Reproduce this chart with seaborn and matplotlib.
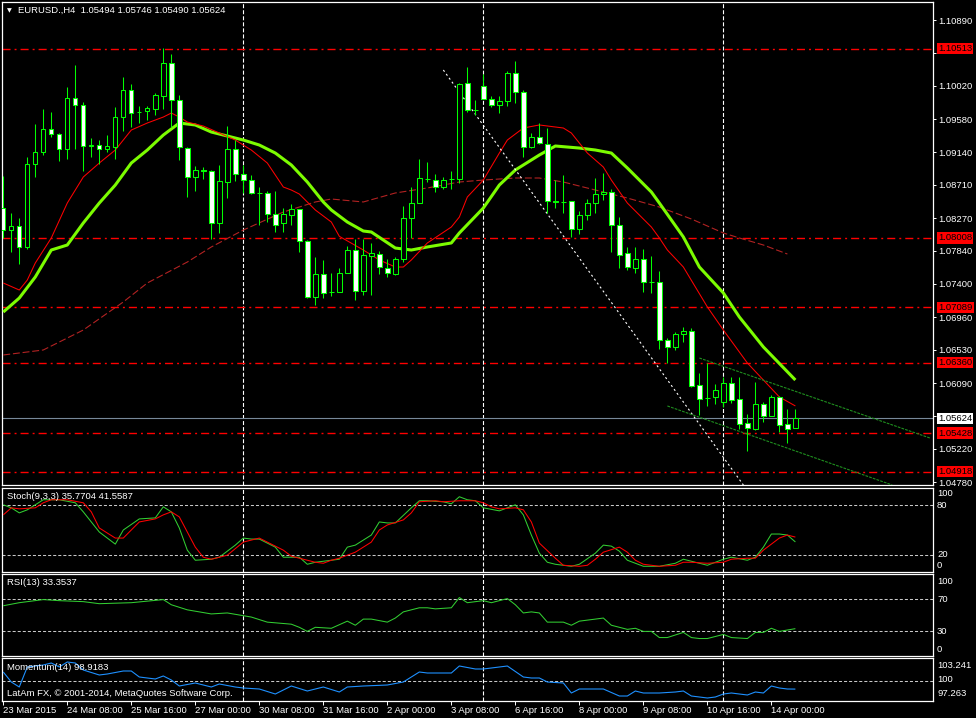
import matplotlib
matplotlib.use("Agg")
import numpy as np
import pandas as pd
import matplotlib.pyplot as plt
import matplotlib.transforms as mtransforms
import seaborn as sns

# ---------------- data ----------------
title_text = "EURUSD.,H4  1.05494 1.05746 1.05490 1.05624"

opens = [1.08404, 1.08113, 1.08166, 1.07889, 1.08986, 1.09145, 1.09449, 1.09383, 1.09184, 1.09858,
         1.09766, 1.09224, 1.09237, 1.09184, 1.09211, 1.09607, 1.09964, 1.09673, 1.09687, 1.09713,
         1.09885, 1.10321, 1.09832, 1.09197, 1.08814, 1.08907, 1.08893, 1.08206, 1.08748, 1.09184,
         1.08854, 1.08774, 1.08603, 1.08603, 1.08325, 1.08206, 1.08312, 1.08391, 1.07968, 1.07228,
         1.07532, 1.07294, 1.07294, 1.07545, 1.07849, 1.07307, 1.07770, 1.07796, 1.07611, 1.07532,
         1.07730, 1.08272, 1.08470, 1.08788, 1.08774, 1.08682, 1.08788, 1.08788, 1.10057, 1.09700,
         1.10017, 1.09845, 1.09766, 1.09819, 1.10189, 1.09938, 1.09211, 1.09343, 1.09250, 1.08497,
         1.08484, 1.08497, 1.08127, 1.08312, 1.08470, 1.08589, 1.08616, 1.08180, 1.07809, 1.07611,
         1.07730, 1.07426, 1.07426, 1.06659, 1.06567, 1.06739, 1.06778, 1.06064, 1.05892, 1.05906,
         1.05840, 1.06091, 1.05879, 1.05562, 1.05483, 1.05813, 1.05655, 1.05906, 1.05549, 1.05494]
highs = [1.08827, 1.08338, 1.08272, 1.09079, 1.09515, 1.09713, 1.09673, 1.09396, 1.10004, 1.10295,
         1.09806, 1.09330, 1.09303, 1.09369, 1.09740, 1.10136, 1.10044, 1.09753, 1.09753, 1.09925,
         1.10519, 1.10440, 1.09898, 1.09211, 1.08960, 1.08946, 1.08907, 1.08973, 1.09488, 1.09303,
         1.08973, 1.08841, 1.08682, 1.08629, 1.08629, 1.08404, 1.08457, 1.08395, 1.07975, 1.07757,
         1.07717, 1.07545, 1.07611, 1.07902, 1.07994, 1.07994, 1.07942, 1.07836, 1.07730, 1.07757,
         1.08431, 1.08682, 1.09052, 1.09012, 1.08854, 1.08814, 1.08893, 1.10057, 1.10268, 1.09832,
         1.10176, 1.09885, 1.09885, 1.10215, 1.10348, 1.09964, 1.09396, 1.09528, 1.09462, 1.08774,
         1.08841, 1.08500, 1.08365, 1.08523, 1.08801, 1.08867, 1.08655, 1.08285, 1.07889, 1.07889,
         1.07862, 1.07770, 1.07571, 1.06686, 1.06765, 1.06831, 1.06818, 1.06223, 1.06355, 1.06078,
         1.06170, 1.06170, 1.06170, 1.05681, 1.06104, 1.05840, 1.05932, 1.05919, 1.05747, 1.05746]
lows = [1.08008, 1.07823, 1.07664, 1.07862, 1.08814, 1.09105, 1.09343, 1.09026, 1.09052, 1.09184,
        1.08893, 1.09079, 1.08986, 1.09145, 1.09052, 1.09422, 1.09475, 1.09528, 1.09568, 1.09634,
        1.09713, 1.09475, 1.09039, 1.08550, 1.08629, 1.08788, 1.07994, 1.08074, 1.08536, 1.08761,
        1.08603, 1.08589, 1.08180, 1.08219, 1.08087, 1.08087, 1.08180, 1.07823, 1.07214, 1.07122,
        1.07214, 1.07241, 1.07290, 1.07540, 1.07188, 1.07254, 1.07254, 1.07532, 1.07492, 1.07525,
        1.07690, 1.08008, 1.08465, 1.08748, 1.08616, 1.08655, 1.08655, 1.08735, 1.09673, 1.09634,
        1.09840, 1.09740, 1.09660, 1.09753, 1.09792, 1.09079, 1.09197, 1.09250, 1.08338, 1.08404,
        1.08338, 1.08021, 1.08061, 1.08246, 1.08338, 1.08510, 1.07823, 1.07611, 1.07585, 1.07545,
        1.07294, 1.07281, 1.06540, 1.06355, 1.06527, 1.06633, 1.06038, 1.05668, 1.05787, 1.05813,
        1.05774, 1.05826, 1.05483, 1.05192, 1.05469, 1.05575, 1.05650, 1.05443, 1.05298, 1.05490]
closes = [1.08113, 1.08166, 1.07889, 1.08986, 1.09145, 1.09449, 1.09383, 1.09184, 1.09858, 1.09766,
          1.09224, 1.09237, 1.09184, 1.09224, 1.09607, 1.09964, 1.09660, 1.09670, 1.09726, 1.09898,
          1.10321, 1.09832, 1.09211, 1.08814, 1.08907, 1.08893, 1.08206, 1.08761, 1.09184, 1.08854,
          1.08774, 1.08603, 1.08598, 1.08325, 1.08180, 1.08325, 1.08391, 1.07968, 1.07228, 1.07532,
          1.07281, 1.07298, 1.07545, 1.07849, 1.07307, 1.07783, 1.07809, 1.07624, 1.07545, 1.07730,
          1.08272, 1.08470, 1.08801, 1.08793, 1.08682, 1.08774, 1.08784, 1.10050, 1.09700, 1.09705,
          1.09845, 1.09766, 1.09819, 1.10189, 1.09938, 1.09211, 1.09343, 1.09264, 1.08497, 1.08484,
          1.08480, 1.08127, 1.08312, 1.08470, 1.08589, 1.08616, 1.08180, 1.07783, 1.07624, 1.07730,
          1.07426, 1.07420, 1.06659, 1.06567, 1.06739, 1.06778, 1.06051, 1.05879, 1.05888, 1.05998,
          1.06091, 1.05866, 1.05549, 1.05496, 1.05813, 1.05655, 1.05906, 1.05536, 1.05483, 1.05624]

fast_ma_bars = [0, 2, 3, 4, 6, 8, 10, 12, 14, 16, 18, 20, 21, 22, 23, 25, 27, 29, 31, 33,
                35, 36, 37, 39, 41, 42, 45, 47, 49, 50, 51, 53, 56, 57, 58, 60, 62, 63, 65, 67,
                70, 71, 73, 75, 76, 78, 81, 82, 83, 85, 88, 90, 93, 95, 97, 99]
fast_ma = [1.07413, 1.07320, 1.07452, 1.07677, 1.08008, 1.08470, 1.08814, 1.08999, 1.09171, 1.09435,
           1.09528, 1.09607, 1.09660, 1.09607, 1.09541, 1.09488, 1.09396, 1.09303, 1.09171, 1.08999,
           1.08682, 1.08642, 1.08589, 1.08378, 1.08219, 1.08030, 1.07849, 1.07717, 1.07624, 1.07624,
           1.07717, 1.07942, 1.08153, 1.08285, 1.08550, 1.08774, 1.09131, 1.09303, 1.09462, 1.09502,
           1.09462, 1.09396, 1.09131, 1.08946, 1.08774, 1.08470, 1.08153, 1.08008, 1.07849, 1.07624,
           1.07096, 1.06791, 1.06355, 1.06130, 1.05906, 1.05787]

slow_ma_bars = [0, 2, 4, 6, 8, 10, 12, 14, 16, 18, 20, 22, 24, 26, 28, 30, 32, 34, 36, 38,
                40, 41, 43, 45, 46, 49, 51, 53, 56, 57, 60, 62, 64, 67, 69, 72, 74, 76, 78, 81,
                82, 85, 87, 90, 92, 95, 99]
slow_ma = [1.07029, 1.07214, 1.07492, 1.07849, 1.07915, 1.08206, 1.08470, 1.08708, 1.08999, 1.09171,
           1.09369, 1.09528, 1.09502, 1.09409, 1.09356, 1.09303, 1.09237, 1.09131, 1.08973, 1.08748,
           1.08484, 1.08378, 1.08219, 1.08100, 1.08087, 1.07875, 1.07849, 1.07889, 1.07942, 1.08074,
           1.08404, 1.08708, 1.08907, 1.09105, 1.09224, 1.09197, 1.09171, 1.09131, 1.08933, 1.08616,
           1.08470, 1.08021, 1.07624, 1.07281, 1.06963, 1.06567, 1.06130]

long_ma_bars = [0, 5, 10, 15, 18, 23, 26, 30, 35, 39, 41, 45, 49, 53, 57, 60, 64, 67, 70, 74,
                78, 82, 86, 90, 92, 95, 98]
long_ma = [1.06461, 1.06527, 1.06791, 1.07162, 1.07413, 1.07690, 1.07889, 1.08113, 1.08351, 1.08484,
           1.08523, 1.08484, 1.08603, 1.08669, 1.08748, 1.08774, 1.08801, 1.08801, 1.08748, 1.08642,
           1.08536, 1.08417, 1.08259, 1.08074, 1.08008, 1.07915, 1.07796]

level_prices = [1.10513, 1.08008, 1.07089, 1.06360, 1.05428, 1.04918]
current_price = 1.05624
price_ticks = [1.10890, 1.10450, 1.10020, 1.09580, 1.09140, 1.08710, 1.08270, 1.07840,
               1.07400, 1.06960, 1.06530, 1.06090, 1.05650, 1.05220, 1.04780]
# tick labels hidden behind the level / price boxes in the reference
hidden_tick_labels = [1.10450, 1.05650]

white_trend_bars = [55.0, 92.5]
white_trend_prices = [1.10229, 1.04742]
channel_upper_bars = [87.0, 115.8]
channel_upper_prices = [1.06421, 1.05364]
channel_lower_bars = [83.0, 111.1]
channel_lower_prices = [1.05787, 1.04742]

week_separators = [30, 60, 90]

stoch_main_bars = [0, 1, 2, 3, 4, 5, 7, 9, 10, 12, 14, 15, 17, 19, 20, 21, 22, 23, 24, 26,
                   27, 29, 30, 31, 32, 34, 35, 37, 38, 39, 41, 42, 43, 44, 45, 46, 47, 48, 49, 51,
                   52, 53, 55, 56, 57, 58, 59, 60, 62, 63, 64, 65, 66, 67, 68, 69, 71, 72, 74, 75,
                   76, 77, 78, 80, 82, 84, 85, 86, 88, 90, 91, 93, 94, 95, 96, 97, 98, 99]
stoch_main = [80.0, 76.4, 70.4, 74.0, 80.0, 86.0, 86.0, 82.4, 71.6, 47.6,
              33.2, 50.0, 63.2, 64.4, 77.6, 71.6, 52.4, 26.0, 14.0, 15.2,
              17.6, 32.0, 40.4, 39.2, 39.2, 29.6, 17.6, 17.6, 9.2, 11.6,
              14.0, 15.2, 29.6, 32.0, 38.0, 44.0, 59.6, 58.4, 58.4, 76.4,
              84.8, 84.8, 83.6, 81.2, 89.6, 86.0, 84.8, 76.4, 72.8, 76.4,
              80.0, 68.0, 44.0, 22.4, 11.6, 9.2, 6.8, 9.2, 22.4, 32.0,
              30.8, 24.8, 14.0, 6.8, 6.8, 10.4, 15.2, 12.8, 8.0, 15.2,
              17.6, 14.0, 17.6, 29.6, 45.2, 45.2, 44.0, 35.7704]
stoch_signal_bars = [0, 1, 2, 4, 5, 6, 8, 10, 11, 12, 14, 15, 16, 17, 19, 20, 21, 22, 23, 24,
                     25, 26, 28, 30, 32, 33, 35, 36, 38, 39, 40, 41, 42, 44, 46, 47, 48, 50, 51, 52,
                     54, 55, 57, 59, 60, 61, 62, 64, 65, 66, 67, 69, 70, 72, 73, 74, 75, 77, 78, 79,
                     80, 82, 84, 85, 86, 88, 90, 91, 93, 94, 95, 97, 98, 99]
stoch_signal = [68.0, 76.4, 75.2, 76.4, 82.4, 86.0, 86.0, 82.4, 71.6, 52.4,
                40.4, 40.4, 50.0, 59.6, 63.2, 68.0, 71.6, 65.6, 47.6, 29.6,
                17.6, 15.2, 20.0, 35.6, 40.4, 35.6, 26.0, 18.8, 14.0, 11.6,
                10.4, 14.0, 16.4, 23.6, 35.6, 50.0, 56.0, 62.0, 70.4, 83.6,
                84.8, 83.6, 84.8, 84.8, 82.4, 77.6, 75.2, 76.4, 74.0, 59.6,
                34.4, 16.4, 8.0, 6.8, 8.0, 15.2, 23.6, 29.6, 23.6, 14.0,
                9.2, 6.8, 8.0, 11.6, 11.6, 10.4, 11.6, 15.2, 16.4, 16.4,
                26.0, 40.4, 44.0, 41.5587]

rsi_bars = [0, 2, 5, 7, 10, 12, 16, 20, 21, 23, 26, 28, 31, 33, 36, 37, 38, 39, 41, 43,
            44, 45, 46, 48, 49, 50, 52, 53, 54, 56, 57, 58, 60, 61, 63, 64, 65, 66, 67, 68,
            70, 71, 72, 74, 75, 76, 78, 79, 80, 81, 82, 83, 85, 86, 87, 88, 90, 91, 93, 94,
            95, 96, 97, 99]
rsi = [61.3, 65.0, 68.8, 67.5, 66.3, 63.8, 65.0, 68.8, 62.5, 56.3,
       51.3, 52.5, 47.5, 41.3, 38.8, 35.0, 30.0, 35.0, 33.8, 42.5,
       37.5, 45.0, 45.0, 41.3, 46.3, 53.8, 58.8, 58.8, 57.5, 58.8,
       71.3, 65.0, 67.5, 65.0, 70.0, 62.5, 52.5, 53.8, 52.5, 41.3,
       41.3, 37.5, 42.5, 45.0, 46.3, 37.5, 32.5, 33.8, 30.0, 30.0,
       22.5, 22.5, 28.8, 22.5, 21.3, 21.3, 26.3, 22.5, 21.3, 28.8,
       28.8, 33.8, 30.0, 33.3537]

mom_bars = [0, 1, 2, 3, 5, 6, 7, 8, 9, 10, 12, 13, 15, 16, 17, 19, 20, 21, 22, 24,
            26, 27, 29, 30, 32, 34, 36, 38, 40, 42, 43, 45, 48, 50, 52, 53, 56, 57, 59, 60,
            61, 63, 65, 66, 67, 68, 70, 71, 72, 74, 75, 77, 78, 79, 80, 82, 84, 85, 86, 88,
            89, 90, 91, 93, 94, 95, 96, 97, 98, 99]
momentum = [101.295, 99.905, 99.209, 101.990, 102.268, 102.546, 101.990, 102.685, 102.546, 101.573,
            100.878, 101.017, 101.434, 101.434, 100.600, 100.322, 100.739, 100.183, 99.348, 99.766,
            99.209, 99.626, 99.209, 99.070, 98.931, 98.236, 99.348, 98.653, 99.209, 98.514,
            99.209, 99.348, 99.487, 99.905, 101.295, 101.156, 101.156, 102.129, 101.712, 101.712,
            101.851, 102.129, 100.600, 100.461, 100.461, 99.905, 99.766, 98.375, 98.931, 98.931,
            98.931, 97.958, 97.958, 98.653, 98.375, 98.375, 98.514, 98.653, 97.958, 97.680,
            97.819, 98.236, 98.375, 98.097, 98.514, 98.375, 99.348, 99.070, 98.931, 98.9183]

xtick_bars = [0, 8, 16, 24, 32, 40, 48, 56, 64, 72, 80, 88, 96]
xtick_labels = ["23 Mar 2015", "24 Mar 08:00", "25 Mar 16:00", "27 Mar 00:00", "30 Mar 08:00",
                "31 Mar 16:00", "2 Apr 00:00", "3 Apr 08:00", "6 Apr 16:00", "8 Apr 00:00",
                "9 Apr 08:00", "10 Apr 16:00", "14 Apr 00:00"]

stoch_title = "Stoch(9,3,3) 35.7704 41.5587"
rsi_title = "RSI(13) 33.3537"
mom_title = "Momentum(14) 98.9183"
copyright_text = "LatAm FX, \u00a9 2001-2014, MetaQuotes Software Corp."

# ---------------- style ----------------
sns.set_theme(style="dark", rc={"axes.facecolor": "black", "figure.facecolor": "black"})
plt.rcParams['font.family'] = ['Liberation Sans', 'DejaVu Sans']
plt.rcParams['lines.scale_dashes'] = False
plt.rcParams['lines.solid_capstyle'] = 'butt'

W, H = 976, 718
FS = 6.8
fig = plt.figure(figsize=(W / 100, H / 100), dpi=100)
fig.patch.set_facecolor('black')
XMIN, XMAX = -0.16, 116.2
SEP_DASH = (0, (2.9, 1.45))
GRID_DASH = (0, (2.2, 1.45))


def panel(top, bottom):
    ax = fig.add_axes([2 / W, 1 - bottom / H, 931 / W, (bottom - top) / H])
    ax.set_facecolor('black')
    ax.grid(False)
    for sp in ax.spines.values():
        sp.set_color('white')
        sp.set_linewidth(0.9)
    ax.set_xlim(XMIN, XMAX)
    ax.tick_params(axis='both', which='both', left=False, bottom=False, right=False, top=False,
                   labelleft=False, labelbottom=False)
    for b in week_separators:
        ax.axvline(b, color='white', lw=0.8, ls=SEP_DASH, zorder=1)
    ax.set_xlabel('')
    ax.set_ylabel('')
    return ax


def fig_text(x, y, s, **kw):
    kw.setdefault('color', 'white')
    kw.setdefault('fontsize', FS)
    kw.setdefault('va', 'center')
    kw.setdefault('ha', 'left')
    fig.text(x / W, 1 - y / H, s, **kw)


# ---------------- main price panel ----------------
ax = panel(2, 485)
bars = np.arange(len(opens))
o = np.array(opens); c = np.array(closes); hi = np.array(highs); lo = np.array(lows)

for p in level_prices:
    ax.axhline(p, color='#ff0000', lw=1.0, ls=(0, (5.8, 2.9, 1.4, 2.9)), zorder=2)
ax.axhline(current_price, color='#778899', lw=0.8, zorder=2)

sns.lineplot(x=long_ma_bars, y=long_ma, ax=ax, color='#b22222', lw=0.8, estimator=None,
             legend=False, zorder=3)
ax.lines[-1].set_linestyle((0, (5, 2)))
sns.lineplot(x=slow_ma_bars, y=slow_ma, ax=ax, color='#7cfc00', lw=2.2, estimator=None,
             legend=False, zorder=3)
sns.lineplot(x=fast_ma_bars, y=fast_ma, ax=ax, color='#ff0000', lw=0.75, estimator=None,
             legend=False, zorder=3)

sns.lineplot(x=white_trend_bars, y=white_trend_prices, ax=ax, color='white', lw=0.8,
             estimator=None, legend=False, zorder=3)
ax.lines[-1].set_linestyle((0, (1.5, 2.0)))
for bx, py in [(channel_upper_bars, channel_upper_prices), (channel_lower_bars, channel_lower_prices)]:
    sns.lineplot(x=bx, y=py, ax=ax, color='#1f8f1f', lw=0.8, estimator=None, legend=False, zorder=3)
    ax.lines[-1].set_linestyle((0, (2.0, 0.8)))

ax.vlines(bars, lo, hi, color='#00ff00', lw=0.75, zorder=5)
fills = ['white' if cc < oo else 'black' for oo, cc in zip(o, c)]
ax.bar(bars, np.abs(c - o), bottom=np.minimum(o, c), width=0.55, color=fills,
       edgecolor='#00ff00', linewidth=0.75, zorder=6)

ax.set_xlim(XMIN, XMAX)
ax.set_ylim(1.04742, 1.11128)
ax.yaxis.tick_right()
ax.set_yticks(price_ticks)
ax.set_yticklabels(["" if t in hidden_tick_labels else f"{t:.5f}" for t in price_ticks])
ax.tick_params(axis='y', left=False, right=True, labelleft=False, labelright=True,
               length=2.5, width=0.7, color='white', labelcolor='white', labelsize=FS, pad=1.5)
ax.set_xlabel('')
ax.set_ylabel('')

blend = mtransforms.blended_transform_factory(ax.transAxes, ax.transData)
for p in level_prices:
    ax.text(1 + 5 / 931, p, f"{p:.5f}", transform=blend, ha='left', va='center', fontsize=FS,
            color='black', zorder=20, clip_on=False,
            bbox=dict(boxstyle='square,pad=0.12', fc='#ff0000', ec='none'))
ax.text(1 + 5 / 931, current_price, f"{current_price:.5f}", transform=blend, ha='left',
        va='center', fontsize=FS, color='black', zorder=20, clip_on=False,
        bbox=dict(boxstyle='square,pad=0.12', fc='white', ec='none'))

fig_text(18, 10.5, title_text)
fig_text(9.5, 10.5, "\u25bc", fontsize=4.5, ha='center', family='DejaVu Sans')

# ---------------- stochastic ----------------
ax_s = panel(488, 572)
ax_s.set_ylim(0, 100)
for lv in (80, 20):
    ax_s.axhline(lv, color='#c8c8c8', lw=0.75, ls=GRID_DASH, zorder=1)
sns.lineplot(x=stoch_main_bars, y=stoch_main, ax=ax_s, color='#32cd32', lw=0.75,
             estimator=None, legend=False, zorder=3)
sns.lineplot(x=stoch_signal_bars, y=stoch_signal, ax=ax_s, color='#ff0000', lw=0.75,
             estimator=None, legend=False, zorder=4)
ax_s.set_xlim(XMIN, XMAX); ax_s.set_ylim(0, 100)
ax_s.set_xlabel(''); ax_s.set_ylabel('')
fig_text(7, 496.5, stoch_title)
for s, y in [("100", 494), ("80", 505), ("20", 554.5), ("0", 566)]:
    fig_text(937, y, s)

# ---------------- RSI ----------------
ax_r = panel(574, 656)
for lv in (70, 30):
    ax_r.axhline(lv, color='#c8c8c8', lw=0.75, ls=GRID_DASH, zorder=1)
sns.lineplot(x=rsi_bars, y=rsi, ax=ax_r, color='#32cd32', lw=0.75, estimator=None,
             legend=False, zorder=3)
ax_r.set_xlim(XMIN, XMAX); ax_r.set_ylim(0, 100)
ax_r.set_xlabel(''); ax_r.set_ylabel('')
fig_text(7, 582.5, rsi_title)
for s, y in [("100", 582), ("70", 599), ("30", 631), ("0", 649)]:
    fig_text(937, y, s)

# ---------------- Momentum ----------------
ax_m = panel(658, 701)
ax_m.axhline(100, color='#c8c8c8', lw=0.75, ls=GRID_DASH, zorder=1)
sns.lineplot(x=mom_bars, y=momentum, ax=ax_m, color='#1e90ff', lw=0.8, estimator=None,
             legend=False, zorder=3)
ax_m.set_xlim(XMIN, XMAX); ax_m.set_ylim(97.263, 103.241)
ax_m.set_xlabel(''); ax_m.set_ylabel('')
ax_m.set_xticks(xtick_bars)
ax_m.set_xticklabels(xtick_labels, ha='left')
ax_m.tick_params(axis='x', bottom=True, labelbottom=True, length=3, width=0.7, color='white',
                 labelcolor='white', labelsize=FS, pad=0.6)
fig_text(7, 667, mom_title)
fig_text(7, 693, copyright_text)
for s, y in [("103.241", 665), ("100", 680), ("97.263", 694)]:
    fig_text(937, y, s)

fig.savefig("out.png", dpi=100, facecolor='black')
